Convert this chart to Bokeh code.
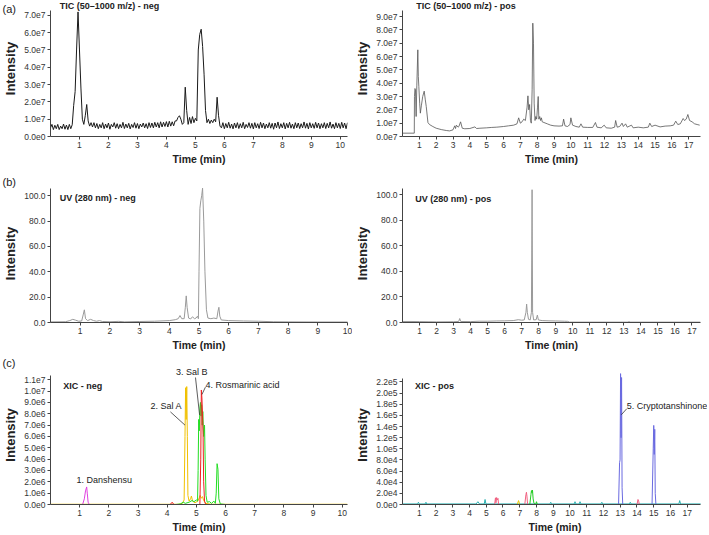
from bokeh.plotting import figure
from bokeh.models import FixedTicker, Label, Range1d, GridBox
from bokeh.embed import file_html
from bokeh.resources import INLINE

FONT = "Liberation Sans"

# ---------------- data ----------------
# (a) TIC neg, sampled every 0.05 min from 0.00 min, intensity in units of 1e7
tic_neg_t0 = 0.0
tic_neg_dt = 0.05
tic_neg_e7 = [
    0.5, 0.7, 0.4, 0.65, 0.45, 0.7, 0.4, 0.6, 0.45, 0.72, 0.42, 0.66, 0.4, 0.7, 0.45, 0.68,
    1.8, 2.6, 5.0, 7.2, 5.0, 2.8, 1.0, 0.7, 1.2, 1.85, 0.9, 0.6, 0.8,
    0.55, 0.8, 0.5, 0.75, 0.45, 0.7, 0.5, 0.8, 0.45, 0.72, 0.5, 0.78, 0.42, 0.7, 0.55, 0.8, 0.48, 0.74, 0.45, 0.7,
    0.5, 0.82, 0.46, 0.72, 0.5, 0.76, 0.44, 0.7, 0.52, 0.8, 0.48, 0.75, 0.45, 0.72, 0.55, 0.78, 0.5, 0.74, 0.46, 0.8,
    0.52, 0.78, 0.5, 0.82, 0.55, 0.8, 0.5, 0.85, 0.55, 0.82, 0.58, 0.86, 0.55, 0.88, 0.6, 0.85, 0.62, 0.9,
    0.9, 1.1, 1.2, 1.0, 0.7, 0.8, 2.85, 1.5, 0.7, 1.1, 0.75, 1.15, 0.8, 1.05, 0.9, 5.0, 5.9, 6.2, 5.2, 3.6,
    1.5, 0.8, 1.0, 0.75, 0.95, 0.8, 1.0, 0.85, 2.27, 1.2, 0.6,
    0.5, 0.8, 0.45, 0.75, 0.5, 0.82, 0.48, 0.72, 0.44, 0.78, 0.5, 0.8, 0.46, 0.74, 0.5, 0.82, 0.45, 0.7, 0.52, 0.8,
    0.48, 0.76, 0.44, 0.8, 0.5, 0.74, 0.46, 0.82, 0.5, 0.78, 0.45, 0.72, 0.5, 0.8, 0.48, 0.76, 0.42, 0.78, 0.5, 0.84,
    0.46, 0.74, 0.5, 0.8, 0.44, 0.76, 0.5, 0.82, 0.48, 0.72, 0.45, 0.8, 0.5, 0.78, 0.46, 0.74, 0.5, 0.84, 0.48, 0.76,
    0.44, 0.8, 0.5, 0.74, 0.47, 0.82, 0.5, 0.78, 0.45, 0.74, 0.5, 0.8, 0.46, 0.76, 0.5, 0.84, 0.48, 0.72, 0.45, 0.8,
    0.5, 0.76, 0.46, 0.82, 0.5, 0.78, 0.45, 0.8,
]

# (a) TIC pos: (time min, intensity 1e7)
tic_pos = [
    (0.0, 0.25), (0.70, 0.25), (0.71, 3.0), (0.74, 3.6), (0.77, 3.5), (0.81, 1.5), (0.85, 3.8), (0.91, 6.5),
    (0.94, 4.5), (0.97, 3.75), (1.02, 2.5), (1.06, 1.75), (1.12, 2.3), (1.2, 3.0), (1.29, 3.4), (1.35, 2.8),
    (1.41, 2.25), (1.51, 1.05), (1.6, 0.9), (1.8, 0.75), (2.0, 0.62), (2.3, 0.52), (2.6, 0.45), (2.8, 0.42),
    (3.0, 0.5), (3.1, 0.8), (3.15, 0.6), (3.2, 0.85), (3.3, 0.7), (3.35, 0.75), (3.45, 1.1), (3.55, 0.62),
    (3.7, 0.58), (4.0, 0.6), (4.3, 0.72), (4.4, 0.6), (4.6, 0.62), (5.0, 0.65), (5.3, 0.68), (5.6, 0.7),
    (6.0, 0.75), (6.3, 0.8), (6.6, 0.85), (6.8, 0.95), (6.9, 1.4), (7.0, 1.0), (7.1, 1.1), (7.2, 1.3),
    (7.3, 1.2), (7.4, 2.2), (7.45, 3.05), (7.5, 2.0), (7.55, 2.4), (7.6, 1.2), (7.65, 1.0), (7.7, 3.5),
    (7.74, 8.5), (7.78, 7.0), (7.82, 2.5), (7.87, 1.2), (7.92, 1.5), (7.97, 1.3), (8.02, 2.2), (8.06, 3.0),
    (8.1, 1.3), (8.15, 1.5), (8.2, 1.2), (8.25, 1.4), (8.3, 1.1), (8.4, 1.05), (8.6, 0.95), (8.8, 0.85),
    (9.0, 0.8), (9.3, 0.78), (9.5, 0.8), (9.57, 1.3), (9.65, 0.8), (9.8, 0.75), (9.95, 0.9), (10.0, 1.4),
    (10.1, 0.85), (10.3, 0.75), (10.5, 0.7), (10.6, 0.95), (10.7, 0.7), (11.0, 0.68), (11.3, 0.68),
    (11.46, 1.05), (11.55, 0.7), (11.8, 0.65), (11.98, 0.85), (12.1, 0.65), (12.4, 0.62), (12.6, 0.7),
    (12.66, 1.2), (12.75, 0.7), (12.9, 0.75), (13.04, 1.0), (13.12, 0.75), (13.25, 0.95), (13.35, 0.7),
    (13.6, 0.85), (13.7, 0.65), (14.0, 0.7), (14.3, 0.65), (14.6, 0.7), (14.69, 1.0), (14.8, 0.75),
    (15.0, 0.85), (15.3, 0.72), (15.6, 0.78), (15.9, 0.8), (16.1, 0.85), (16.23, 1.15), (16.35, 0.9),
    (16.5, 0.95), (16.67, 1.35), (16.75, 1.2), (16.85, 1.3), (16.95, 1.65), (17.05, 1.2), (17.2, 1.1),
    (17.35, 0.95), (17.5, 0.9), (17.65, 0.85),
]

# (b) UV 280 nm: (time min, intensity)
uv_neg = [
    (0.0, 0.5), (0.5, 0.6), (0.65, 1.5), (0.75, 2.5), (0.85, 1.8), (0.95, 1.0), (1.05, 1.2), (1.1, 6.0),
    (1.14, 10.0), (1.18, 3.0), (1.25, 1.5), (1.35, 2.5), (1.45, 1.5), (1.55, 1.0), (1.65, 1.5), (1.75, 0.8),
    (2.0, 0.6), (2.3, 0.9), (2.5, 0.5), (3.0, 0.8), (3.5, 1.0), (4.0, 1.5), (4.2, 2.2), (4.3, 3.0),
    (4.36, 5.5), (4.42, 3.0), (4.5, 3.0), (4.54, 12.0), (4.57, 21.0), (4.6, 12.0), (4.65, 3.5), (4.72, 2.8),
    (4.78, 4.5), (4.85, 3.0), (4.9, 3.5), (4.95, 5.0), (4.98, 3.0), (5.0, 40.0), (5.03, 90.0), (5.06, 96.0),
    (5.09, 100.0), (5.12, 106.0), (5.16, 80.0), (5.2, 40.0), (5.25, 10.0), (5.3, 3.5), (5.4, 3.0),
    (5.5, 3.5), (5.6, 3.0), (5.64, 9.0), (5.67, 12.0), (5.7, 5.0), (5.75, 2.0), (6.0, 1.5), (6.5, 1.2),
    (7.0, 1.0), (7.5, 0.6), (8.0, 0.5), (9.0, 0.4), (10.05, 0.4),
]
uv_pos = [
    (0.0, 0.8), (0.5, 0.8), (1.0, 0.7), (1.5, 0.6), (2.0, 0.5), (3.0, 0.6), (3.3, 0.8), (3.36, 3.1),
    (3.42, 0.8), (4.0, 0.7), (4.5, 1.0), (5.0, 1.0), (5.5, 1.2), (6.0, 1.3), (6.5, 1.5), (6.8, 2.2),
    (7.0, 1.8), (7.15, 2.0), (7.25, 8.0), (7.29, 14.4), (7.33, 8.0), (7.4, 2.5), (7.5, 2.0), (7.57, 8.0),
    (7.61, 104.0), (7.64, 8.0), (7.7, 2.0), (7.85, 2.2), (7.92, 5.8), (7.98, 2.0), (8.2, 1.5), (8.6, 1.3),
    (9.0, 1.2), (9.5, 1.0), (9.7, 0.9), (9.8, 0.3), (11.0, 0.3), (13.2, 0.3), (13.3, 0.6), (13.4, 0.3),
    (17.5, 0.3),
]

# (c) XIC neg: (time min, intensity 1e6)
xic_danshensu = [(1.10, 0.0), (1.16, 0.5), (1.20, 1.2), (1.24, 1.55), (1.26, 1.0), (1.29, 0.2), (1.33, 0.0)]
xic_sal_a = [
    (0.0, 0.02), (4.40, 0.02), (4.52, 0.1), (4.58, 0.4), (4.61, 6.0), (4.63, 10.3), (4.65, 7.5), (4.67, 10.4),
    (4.69, 6.0), (4.71, 0.8), (4.75, 0.3), (4.80, 0.5), (4.83, 0.75), (4.87, 0.3), (4.95, 0.15), (5.05, 0.3),
    (5.10, 0.6), (5.13, 0.8), (5.17, 0.55), (5.21, 0.7), (5.25, 0.35), (5.32, 0.1), (5.5, 0.02), (10.18, 0.02),
]
xic_sal_b = [
    (4.3, 0.0), (4.45, 0.05), (4.55, 0.2), (4.62, 0.1), (4.75, 0.2), (4.85, 0.35), (4.92, 0.25), (5.0, 0.4),
    (5.04, 0.3), (5.06, 3.0), (5.08, 7.5), (5.10, 6.5), (5.12, 8.5), (5.14, 9.0), (5.16, 7.8), (5.18, 8.8),
    (5.20, 7.0), (5.22, 8.2), (5.25, 6.0), (5.28, 7.0), (5.30, 4.0), (5.33, 0.8), (5.37, 0.2), (5.45, 0.25),
    (5.52, 0.1), (5.6, 0.3), (5.65, 0.1), (5.68, 1.0), (5.71, 3.6), (5.74, 3.1), (5.77, 0.5), (5.82, 0.05),
    (6.0, 0.0),
]
xic_rosmarinic = [
    (4.1, 0.0), (4.17, 0.2), (4.23, 0.0), (5.12, 0.0), (5.15, 4.0), (5.17, 10.1), (5.19, 9.4), (5.21, 8.0),
    (5.23, 6.2), (5.25, 2.0), (5.28, 0.3), (5.32, 0.0),
]

# (c) XIC pos: (time min, intensity 1e4)
xic_pos_teal = [
    (0.0, 0.1), (0.9, 0.1), (0.95, 0.4), (1.0, 0.1), (1.35, 0.1), (1.4, 0.4), (1.45, 0.1), (4.4, 0.1),
    (4.5, 0.5), (4.6, 0.1), (4.88, 0.1), (4.93, 0.9), (4.98, 0.1), (8.8, 0.1), (8.85, 0.4), (8.9, 0.1),
    (10.25, 0.1), (10.3, 0.5), (10.35, 0.1), (10.55, 0.1), (10.6, 0.5), (10.65, 0.1), (11.85, 0.1),
    (11.9, 0.4), (11.95, 0.1), (13.55, 0.1), (13.6, 0.4), (13.65, 0.1), (16.5, 0.1), (16.55, 0.7),
    (16.6, 0.1), (17.8, 0.1),
]
xic_pos_crypto = [
    (12.9, 0.0), (12.96, 7.5), (12.99, 8.0), (13.02, 23.5), (13.05, 12.0), (13.08, 22.8), (13.11, 3.0),
    (13.15, 0.0), (14.9, 0.0), (14.97, 10.0), (15.0, 14.2), (15.03, 9.0), (15.06, 13.5), (15.09, 2.0),
    (15.13, 0.0),
]
xic_pos_pink = [
    (5.5, 0.0), (5.55, 1.2), (5.58, 0.3), (5.62, 1.25), (5.66, 0.8), (5.70, 1.1), (5.74, 0.0), (7.3, 0.0),
    (7.37, 1.8), (7.40, 2.2), (7.43, 1.5), (7.47, 0.0), (14.0, 0.0), (14.06, 0.9), (14.1, 0.6), (14.14, 0.0),
]
xic_pos_green = [
    (7.6, 0.0), (7.67, 1.8), (7.70, 2.5), (7.73, 2.1), (7.76, 2.6), (7.80, 1.0), (7.85, 0.2), (7.95, 0.0),
    (8.0, 0.5), (8.05, 0.0),
]
xic_pos_yellow = [(6.85, 0.0), (6.93, 0.7), (7.0, 0.0)]

# tick labels
x_ticks_neg = list(range(1, 11))
x_ticks_pos = list(range(1, 18))
tic_neg_ticks = [0, 1, 2, 3, 4, 5, 6, 7]
tic_neg_labels = ["0.0e0", "1.0e7", "2.0e7", "3.0e7", "4.0e7", "5.0e7", "6.0e7", "7.0e7"]
tic_pos_ticks = [0, 1, 2, 3, 4, 5, 6, 7, 8, 9]
tic_pos_labels = ["0.0e7", "1.0e7", "2.0e7", "3.0e7", "4.0e7", "5.0e7", "6.0e7", "7.0e7", "8.0e7", "9.0e7"]
uv_ticks = [0, 20, 40, 60, 80, 100]
uv_labels = ["0.0", "20.0", "40.0", "60.0", "80.0", "100.0"]
xic_neg_ticks = [0, 1, 2, 3, 4, 5, 6, 7, 8, 9, 10, 11]
xic_neg_labels = ["0.0e0", "1.0e6", "2.0e6", "3.0e6", "4.0e6", "5.0e6", "6.0e6", "7.0e6", "8.0e6",
                  "9.0e6", "1.0e7", "1.1e7"]
xic_pos_ticks = [0, 2, 4, 6, 8, 10, 12, 14, 16, 18, 20, 22]
xic_pos_labels = ["0.0e0", "2.0e4", "4.0e4", "6.0e4", "8.0e4", "1.0e5", "1.2e5", "1.4e5", "1.6e5",
                  "1.8e5", "2.0e5", "2.2e5"]

# panel tags
panel_tags = ["(a)", "(b)", "(c)"]

# compound annotations: text, x, y, align, leader (x0, y0, x1, y1) or None
xic_neg_notes = [
    ("1. Danshensu", 1.84, 2.2, "center", None),
    ("2. Sal A", 3.97, 8.7, "center", (4.11, 8.17, 4.61, 7.0)),
    ("3. Sal B", 4.84, 11.65, "center", (4.97, 11.2, 5.11, 7.9)),
    ("4. Rosmarinic acid", 5.31, 10.56, "left", (5.31, 10.35, 5.19, 9.7)),
]
xic_pos_notes = [
    ("5. Cryptotanshinone", 13.39, 17.7, "left", (13.39, 17.2, 13.06, 16.1)),
]


def unzip(pairs):
    return [a for a, b in pairs], [b for a, b in pairs]


def make_fig(width, height, xr, yr, ybound, yticks, ylabels, xticks, mbl, mbr, mbt, mbb, xbound=None):
    p = figure(width=width, height=height, x_range=Range1d(*xr), y_range=Range1d(*yr),
               output_backend="svg", toolbar_location=None, tools="",
               min_border_left=mbl, min_border_right=mbr, min_border_top=mbt, min_border_bottom=mbb)
    p.outline_line_color = None
    p.xgrid.visible = False
    p.ygrid.visible = False
    xa = p.xaxis[0]
    ya = p.yaxis[0]
    xa.ticker = FixedTicker(ticks=xticks)
    ya.ticker = FixedTicker(ticks=yticks)
    ya.major_label_overrides = {float(t): l for t, l in zip(yticks, ylabels)}
    ya.bounds = (0, ybound)
    if xbound is not None:
        xa.bounds = (0, xbound)
    for ax in (xa, ya):
        ax.axis_line_color = "#444444"
        ax.major_tick_line_color = "#444444"
        ax.minor_tick_line_color = None
        ax.major_tick_in = 0
        ax.major_tick_out = 3
        ax.major_label_standoff = 2
        ax.major_label_text_font = FONT
        ax.major_label_text_font_size = "8.5px"
        ax.major_label_text_color = "#333333"
        ax.axis_label_text_font = FONT
        ax.axis_label_text_font_style = "bold"
        ax.axis_label_text_color = "#222222"
    xa.axis_label = "Time (min)"
    xa.axis_label_text_font_size = "10.5px"
    xa.axis_label_standoff = 2
    ya.axis_label = "Intensity"
    ya.axis_label_text_font_size = "13px"
    ya.axis_label_standoff = 3
    return p


def add_title(p, x, y, text):
    p.add_layout(Label(x=x, y=y, text=text, text_font=FONT, text_font_size="9px",
                       text_font_style="bold", text_color="#222222", text_baseline="middle"))


def add_notes(p, notes):
    for text, x, y, align, lead in notes:
        p.add_layout(Label(x=x, y=y, text=text, text_font=FONT, text_font_size="9px",
                           text_color="#222222", text_baseline="middle", text_align=align))
        if lead is not None:
            p.segment(x0=[lead[0]], y0=[lead[1]], x1=[lead[2]], y1=[lead[3]],
                      line_color="#333333", line_width=0.8)


LW, RW = 352, 355
HA, HB, HC = 174, 180, 181
TOTAL_W, TOTAL_H = LW + RW, HA + HB + HC

# ---- row (a)
pa1 = make_fig(LW, HA, (0, 10.25), (0, 7.86), 7.3, tic_neg_ticks, tic_neg_labels, x_ticks_neg, 44, 5, 0, 38)
tn_t = [round(tic_neg_t0 + i * tic_neg_dt, 2) for i in range(len(tic_neg_e7))]
pa1.line(tn_t, tic_neg_e7, line_color="#1a1a1a", line_width=1.0)
add_title(pa1, 0.32, 7.57, "TIC (50\u20131000 m/z) - neg")

pa2 = make_fig(RW, HA, (0, 17.7), (0, 10.2), 9.47, tic_pos_ticks, tic_pos_labels, x_ticks_pos, 44, 7, 0, 38)
t, y = unzip(tic_pos)
pa2.line(t, y, line_color="#555555", line_width=0.8)
add_title(pa2, 0.81, 9.77, "TIC (50\u20131000 m/z) - pos")

# ---- row (b)
pb1 = make_fig(LW, HB, (0, 10.0), (0, 108.9), 106, uv_ticks, uv_labels, x_ticks_neg, 44, 5, 10, 32)
t, y = unzip(uv_neg)
pb1.line(t, y, line_color="#9a9a9a", line_width=1)
add_title(pb1, 0.31, 97.9, "UV (280 nm) - neg")

pb2 = make_fig(RW, HB, (0, 17.5), (0, 108.1), 105, uv_ticks, uv_labels, x_ticks_pos, 44, 7, 10, 32)
t, y = unzip(uv_pos)
pb2.line(t, y, line_color="#9a9a9a", line_width=1)
add_title(pb2, 0.75, 96.9, "UV (280 nm) - pos")

# ---- row (c)
pc1 = make_fig(LW, HC, (0, 10.18), (0, 12.26), 11.4, xic_neg_ticks, xic_neg_labels, x_ticks_neg, 44, 5, 11, 29)
for series, col in ((xic_sal_a, "#f0c000"), (xic_sal_b, "#22dd22"), (xic_rosmarinic, "#ee2222"),
                    (xic_danshensu, "#e040e0")):
    t, y = unzip(series)
    pc1.line(t, y, line_color=col, line_width=1)
add_title(pc1, 0.44, 10.43, "XIC - neg")
add_notes(pc1, xic_neg_notes)

pc2 = make_fig(RW, HC, (0, 18.21), (0, 24.96), 22.65, xic_pos_ticks, xic_pos_labels, x_ticks_pos, 44, 0, 11, 29,
               xbound=17.8)
pc2.frame_align = False
for series, col in ((xic_pos_teal, "#2ab0b0"), (xic_pos_crypto, "#6a6ae0"), (xic_pos_pink, "#f06080"),
                    (xic_pos_green, "#22cc22"), (xic_pos_yellow, "#e8c800")):
    t, y = unzip(series)
    pc2.line(t, y, line_color=col, line_width=1)
add_title(pc2, 0.75, 21.3, "XIC - pos")
add_notes(pc2, xic_pos_notes)

# ---- transparent overlay carrying the panel tags (page pixel coordinates, y downward)
ov = figure(width=TOTAL_W, height=TOTAL_H, x_range=Range1d(0, TOTAL_W), y_range=Range1d(TOTAL_H, 0),
            output_backend="svg", toolbar_location=None, tools="",
            x_axis_location=None, y_axis_location=None,
            min_border_left=0, min_border_right=0, min_border_top=0, min_border_bottom=0)
ov.frame_align = False
ov.outline_line_color = None
ov.xgrid.visible = False
ov.ygrid.visible = False
ov.background_fill_alpha = 0
ov.border_fill_alpha = 0
for tag, ty in zip(panel_tags, (8, 181, 362)):
    ov.add_layout(Label(x=2, y=ty, text=tag, text_font=FONT, text_font_size="11px",
                        text_color="#222222", text_baseline="middle"))

layout = GridBox(children=[(pa1, 0, 0), (pa2, 0, 1), (pb1, 1, 0), (pb2, 1, 1), (pc1, 2, 0), (pc2, 2, 1),
                           (ov, 0, 0, 3, 2)])
open("out.html", "w").write(file_html(layout, INLINE))
